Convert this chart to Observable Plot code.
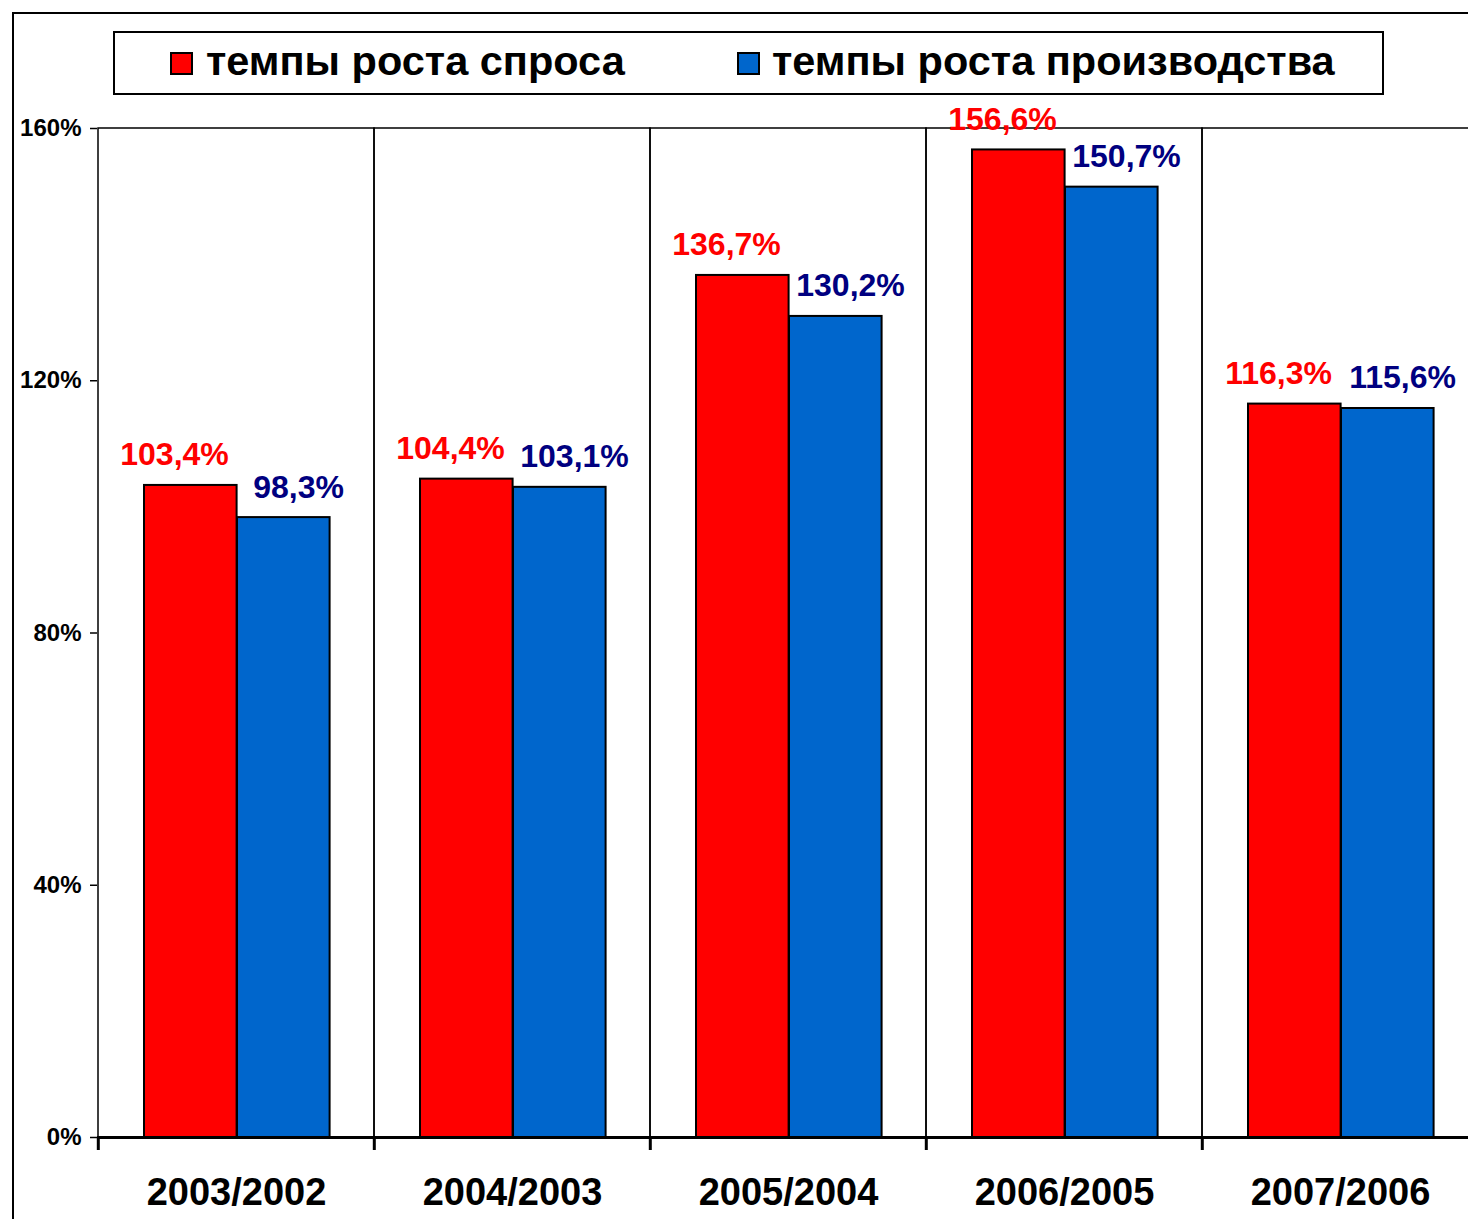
<!DOCTYPE html>
<html>
<head>
<meta charset="utf-8">
<script src="https://cdn.jsdelivr.net/npm/d3@7"></script>
<script src="https://cdn.jsdelivr.net/npm/@observablehq/plot@0.6"></script>
<style>
  html, body { margin: 0; padding: 0; background: #fff; overflow: hidden; }
  #page { position: relative; width: 1468px; height: 1219px; font-family: "Liberation Sans", Arial, sans-serif; font-weight: bold; }
  #frame { position: absolute; left: 12px; top: 12px; width: 1470px; height: 1230px; border-left: 2px solid #000; border-top: 2px solid #000; }
  #chart { position: absolute; left: 0; top: 0; }
  #legend { position: absolute; left: 113px; top: 31px; width: 1267px; height: 60px; border: 2px solid #000; background: #fff; }
  .sw { position: absolute; width: 19px; height: 19px; border: 2px solid #000; top: 19px; }
  .lt { position: absolute; font-size: 41.5px; line-height: 41.5px; top: 7px; white-space: nowrap; color: #000; }
</style>
</head>
<body>
<div id="page">
  <div id="frame"></div>
  <div id="chart"></div>
  <div id="legend"></div>
</div>
<script>
const categories = ["2003/2002", "2004/2003", "2005/2004", "2006/2005", "2007/2006"];
const demand = [103.4, 104.4, 136.7, 156.6, 116.3];
const production = [98.3, 103.1, 130.2, 150.7, 115.6];
const seriesNames = ["темпы роста спроса", "темпы роста производства"];
const yTicks = [0, 40, 80, 120, 160];

const fillColors = ["#ff0000", "#0066cc"];
const labelColors = ["#ff0000", "#000080"];

const fmt = v => v.toFixed(1).replace(".", ",") + "%";
const demandRows = categories.map((c, i) => ({cat: c, value: demand[i]}));
const prodRows = categories.map((c, i) => ({cat: c, value: production[i]}));

const xRange = [97, 1479];
const bw = (xRange[1] - xRange[0]) / categories.length;

const chart = Plot.plot({
  width: 1468,
  height: 1219,
  marginTop: 128,
  marginBottom: 82,
  marginLeft: 97,
  marginRight: 0,
  style: {fontFamily: "Liberation Sans, Arial, sans-serif", fontWeight: "bold", background: "transparent", overflow: "visible"},
  x: {domain: categories, range: xRange, padding: 0},
  y: {domain: [0, 160]},
  marks: [
    // category cells (grid lines at boundaries and top line)
    Plot.barY(categories, {x: d => d, y1: 0, y2: 160, fill: "none", stroke: "#000", strokeWidth: 1.5}),
    Plot.barY(demandRows, {x: "cat", y: "value", fill: fillColors[0], stroke: "#000", strokeWidth: 2, insetLeft: 46, insetRight: bw - 139}),
    Plot.barY(prodRows, {x: "cat", y: "value", fill: fillColors[1], stroke: "#000", strokeWidth: 2, insetLeft: 139, insetRight: bw - 232}),
    Plot.text(demandRows, {x: "cat", y: "value", text: d => fmt(d.value), fill: labelColors[0], fontSize: 32, fontWeight: "bold", lineAnchor: "bottom", dx: -62, dy: -20}),
    Plot.text(prodRows, {x: "cat", y: "value", text: d => fmt(d.value), fill: labelColors[1], fontSize: 32, fontWeight: "bold", lineAnchor: "bottom", dx: 62, dy: -20}),
    Plot.ruleY([0], {stroke: "#000", strokeWidth: 3}),
    Plot.ruleX(categories, {x: d => d, dx: -bw / 2, y1: 0, y2: 0, insetBottom: -13, stroke: "#000", strokeWidth: 3}),
    Plot.axisY({ticks: yTicks, tickFormat: d => d + "%", tickSize: 7, tickPadding: 9, fontSize: 24, fontWeight: "bold", label: null, stroke: "#000", strokeWidth: 1.5}),
    Plot.axisX({tickSize: 0, tickPadding: 41, fontSize: 38, fontWeight: "bold", label: null})
  ]
});
document.getElementById("chart").appendChild(chart);

// legend
const legend = document.getElementById("legend");
const swX = [55, 622];
const txX = [91, 657];
seriesNames.forEach((name, i) => {
  const sw = document.createElement("div");
  sw.className = "sw";
  sw.style.left = swX[i] + "px";
  sw.style.background = fillColors[i];
  legend.appendChild(sw);
  const t = document.createElement("span");
  t.className = "lt";
  t.style.left = txX[i] + "px";
  t.textContent = name;
  legend.appendChild(t);
});
</script>
</body>
</html>
